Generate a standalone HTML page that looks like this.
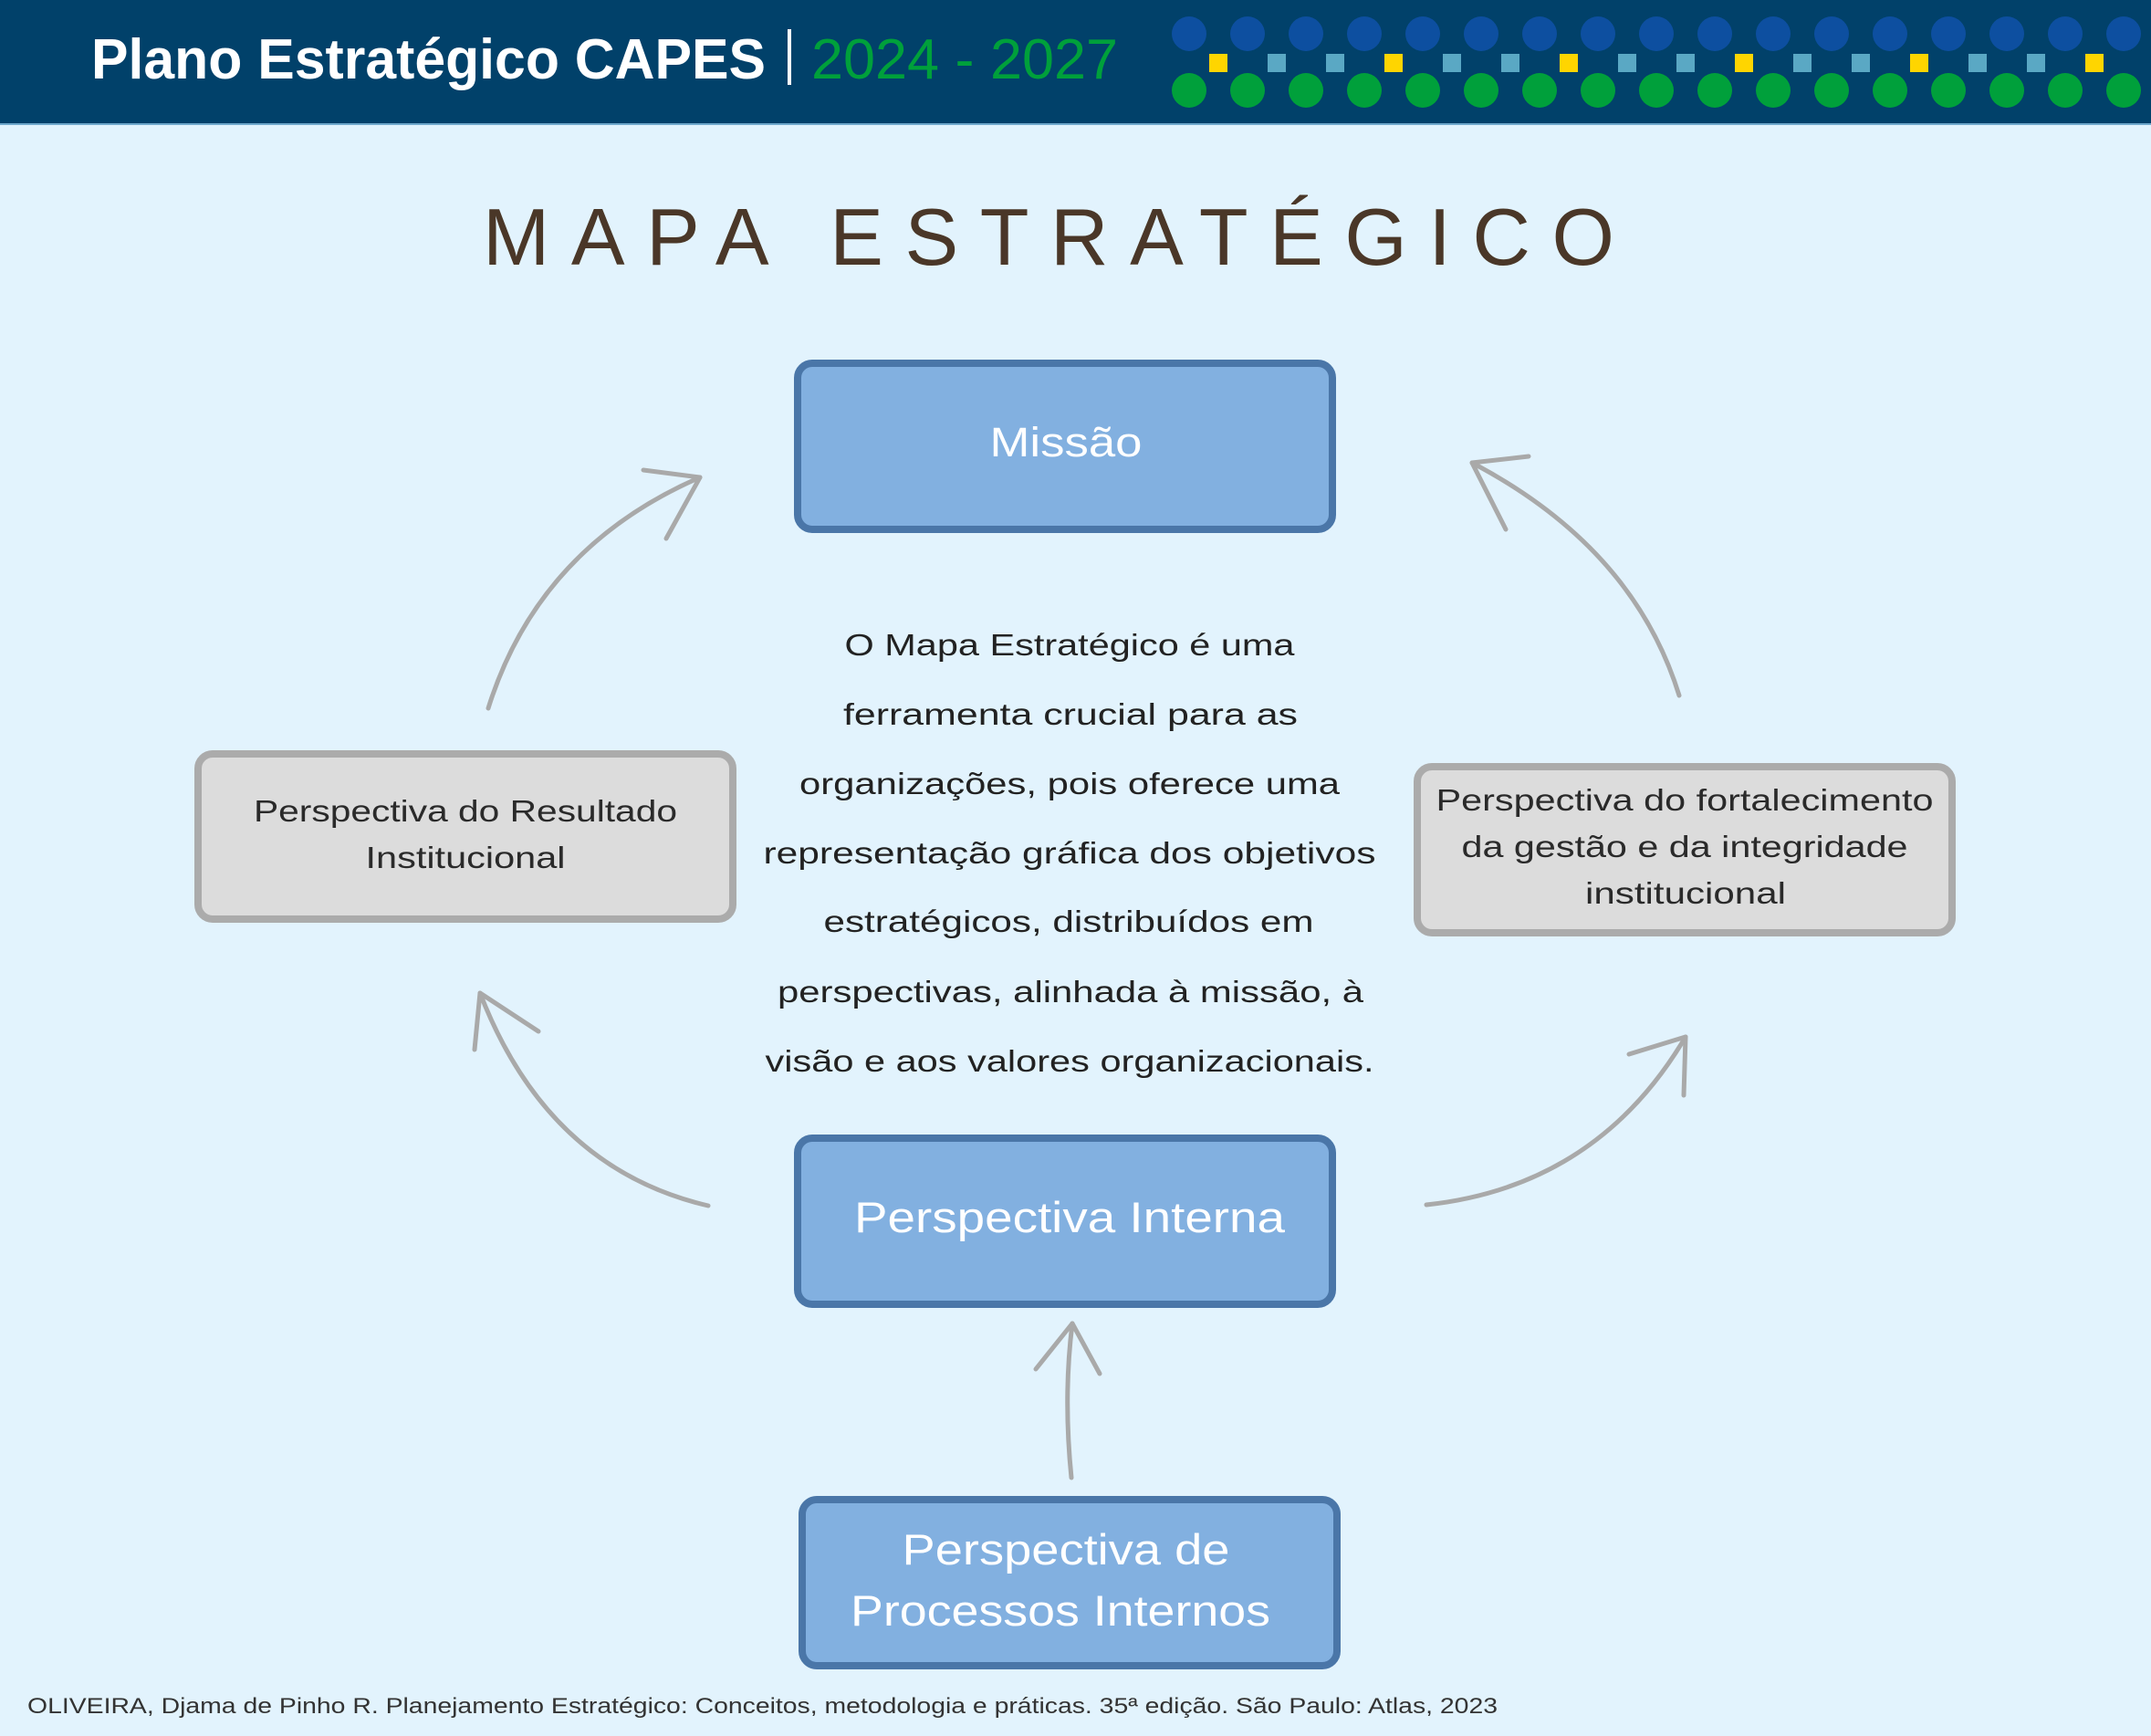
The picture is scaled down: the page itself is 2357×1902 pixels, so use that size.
<!DOCTYPE html>
<html><head><meta charset="utf-8"><style>
html,body{margin:0;padding:0;background:#e2f3fd;}
svg{display:block;}
</style></head><body>
<svg width="2357" height="1902" viewBox="0 0 2357 1902" xmlns="http://www.w3.org/2000/svg" font-family="'Liberation Sans', sans-serif">
<rect x="0" y="0" width="2357" height="1902" fill="#e2f3fd"/>
<rect x="0" y="0" width="2357" height="136" fill="#01416a"/>
<rect x="0" y="135" width="2357" height="2" fill="#6fa8cc"/>
<text x="100" y="86" font-size="62" font-weight="bold" fill="#ffffff" textLength="739" lengthAdjust="spacingAndGlyphs">Plano Estratégico CAPES</text>
<rect x="863" y="32" width="4" height="61" fill="#ffffff"/>
<text x="889" y="86" font-size="62" fill="#00a03b" textLength="336" lengthAdjust="spacingAndGlyphs">2024 - 2027</text>
<g id="dots">
<g fill="#0d4fa0">
<circle cx="1303" cy="37" r="19"/><circle cx="1367" cy="37" r="19"/><circle cx="1431" cy="37" r="19"/><circle cx="1495" cy="37" r="19"/><circle cx="1559" cy="37" r="19"/><circle cx="1623" cy="37" r="19"/><circle cx="1687" cy="37" r="19"/><circle cx="1751" cy="37" r="19"/><circle cx="1815" cy="37" r="19"/><circle cx="1879" cy="37" r="19"/><circle cx="1943" cy="37" r="19"/><circle cx="2007" cy="37" r="19"/><circle cx="2071" cy="37" r="19"/><circle cx="2135" cy="37" r="19"/><circle cx="2199" cy="37" r="19"/><circle cx="2263" cy="37" r="19"/><circle cx="2327" cy="37" r="19"/>
</g>
<g fill="#00a03b">
<circle cx="1303" cy="99" r="19"/><circle cx="1367" cy="99" r="19"/><circle cx="1431" cy="99" r="19"/><circle cx="1495" cy="99" r="19"/><circle cx="1559" cy="99" r="19"/><circle cx="1623" cy="99" r="19"/><circle cx="1687" cy="99" r="19"/><circle cx="1751" cy="99" r="19"/><circle cx="1815" cy="99" r="19"/><circle cx="1879" cy="99" r="19"/><circle cx="1943" cy="99" r="19"/><circle cx="2007" cy="99" r="19"/><circle cx="2071" cy="99" r="19"/><circle cx="2135" cy="99" r="19"/><circle cx="2199" cy="99" r="19"/><circle cx="2263" cy="99" r="19"/><circle cx="2327" cy="99" r="19"/>
</g>
<g>
<rect x="1325" y="59" width="20" height="20" fill="#ffd500"/><rect x="1389" y="59" width="20" height="20" fill="#5aa8c4"/><rect x="1453" y="59" width="20" height="20" fill="#5aa8c4"/><rect x="1517" y="59" width="20" height="20" fill="#ffd500"/><rect x="1581" y="59" width="20" height="20" fill="#5aa8c4"/><rect x="1645" y="59" width="20" height="20" fill="#5aa8c4"/><rect x="1709" y="59" width="20" height="20" fill="#ffd500"/><rect x="1773" y="59" width="20" height="20" fill="#5aa8c4"/><rect x="1837" y="59" width="20" height="20" fill="#5aa8c4"/><rect x="1901" y="59" width="20" height="20" fill="#ffd500"/><rect x="1965" y="59" width="20" height="20" fill="#5aa8c4"/><rect x="2029" y="59" width="20" height="20" fill="#5aa8c4"/><rect x="2093" y="59" width="20" height="20" fill="#ffd500"/><rect x="2157" y="59" width="20" height="20" fill="#5aa8c4"/><rect x="2221" y="59" width="20" height="20" fill="#5aa8c4"/><rect x="2285" y="59" width="20" height="20" fill="#ffd500"/>
</g>
</g>
<text x="529" y="290" font-size="88" fill="#4a3728" textLength="1240" lengthAdjust="spacing">MAPA ESTRATÉGICO</text>

<g stroke-width="8">
<rect x="874" y="398" width="586" height="182" rx="16" fill="#82b0e0" stroke="#4a76a8"/>
<rect x="874" y="1247" width="586" height="182" rx="16" fill="#82b0e0" stroke="#4a76a8"/>
<rect x="879" y="1643" width="586" height="182" rx="16" fill="#82b0e0" stroke="#4a76a8"/>
<rect x="217" y="826" width="586" height="181" rx="16" fill="#dcdcdc" stroke="#ababab"/>
<rect x="1553" y="840" width="586" height="182" rx="16" fill="#dcdcdc" stroke="#ababab"/>
</g>
<g fill="#ffffff" text-anchor="middle" lengthAdjust="spacingAndGlyphs">
<text x="1168" y="500" font-size="45" textLength="167" lengthAdjust="spacingAndGlyphs">Missão</text>
<text x="1172" y="1350" font-size="47" textLength="472" lengthAdjust="spacingAndGlyphs">Perspectiva Interna</text>
<text x="1168" y="1714" font-size="47" textLength="359" lengthAdjust="spacingAndGlyphs">Perspectiva de</text>
<text x="1162" y="1781" font-size="47" textLength="460" lengthAdjust="spacingAndGlyphs">Processos Internos</text>
</g>
<g fill="#2a2a2a" text-anchor="middle" font-size="33">
<text x="510" y="900" textLength="464" lengthAdjust="spacingAndGlyphs">Perspectiva do Resultado</text>
<text x="510" y="951" textLength="219" lengthAdjust="spacingAndGlyphs">Institucional</text>
<text x="1846" y="888" textLength="545" lengthAdjust="spacingAndGlyphs">Perspectiva do fortalecimento</text>
<text x="1846" y="939" textLength="489" lengthAdjust="spacingAndGlyphs">da gestão e da integridade</text>
<text x="1847" y="990" textLength="220" lengthAdjust="spacingAndGlyphs">institucional</text>
</g>
<g fill="#222222" text-anchor="middle" font-size="33">
<text x="1172" y="718" textLength="493" lengthAdjust="spacingAndGlyphs">O Mapa Estratégico é uma</text>
<text x="1173" y="794" textLength="498" lengthAdjust="spacingAndGlyphs">ferramenta crucial para as</text>
<text x="1172" y="870" textLength="592" lengthAdjust="spacingAndGlyphs">organizações, pois oferece uma</text>
<text x="1172" y="946" textLength="671" lengthAdjust="spacingAndGlyphs">representação gráfica dos objetivos</text>
<text x="1171" y="1021" textLength="537" lengthAdjust="spacingAndGlyphs">estratégicos, distribuídos em</text>
<text x="1173" y="1098" textLength="642" lengthAdjust="spacingAndGlyphs">perspectivas, alinhada à missão, à</text>
<text x="1172" y="1174" textLength="667" lengthAdjust="spacingAndGlyphs">visão e aos valores organizacionais.</text>
</g>
<g fill="none" stroke="#a9a9a9" stroke-width="5" stroke-linecap="round">
<path d="M535 776 Q590 600 767 523"/>
<path d="M767 523 L705 515 M767 523 L730 590"/>
<path d="M1840 762 Q1790 600 1613 507"/>
<path d="M1613 507 L1675 500 M1613 507 L1650 580"/>
<path d="M776 1321 Q600 1280 526 1088"/>
<path d="M526 1088 L520 1150 M526 1088 L590 1130"/>
<path d="M1563 1320 Q1750 1300 1847 1136"/>
<path d="M1847 1136 L1785 1155 M1847 1136 L1845 1200"/>
<path d="M1174 1619 Q1165 1530 1175 1450"/>
<path d="M1175 1450 L1135 1500 M1175 1450 L1205 1505"/>
</g>
<text x="30" y="1877" font-size="24" fill="#333333" textLength="1611" lengthAdjust="spacingAndGlyphs">OLIVEIRA, Djama de Pinho R. Planejamento Estratégico: Conceitos, metodologia e práticas. 35ª edição. São Paulo: Atlas, 2023</text>
</svg>
</body></html>
